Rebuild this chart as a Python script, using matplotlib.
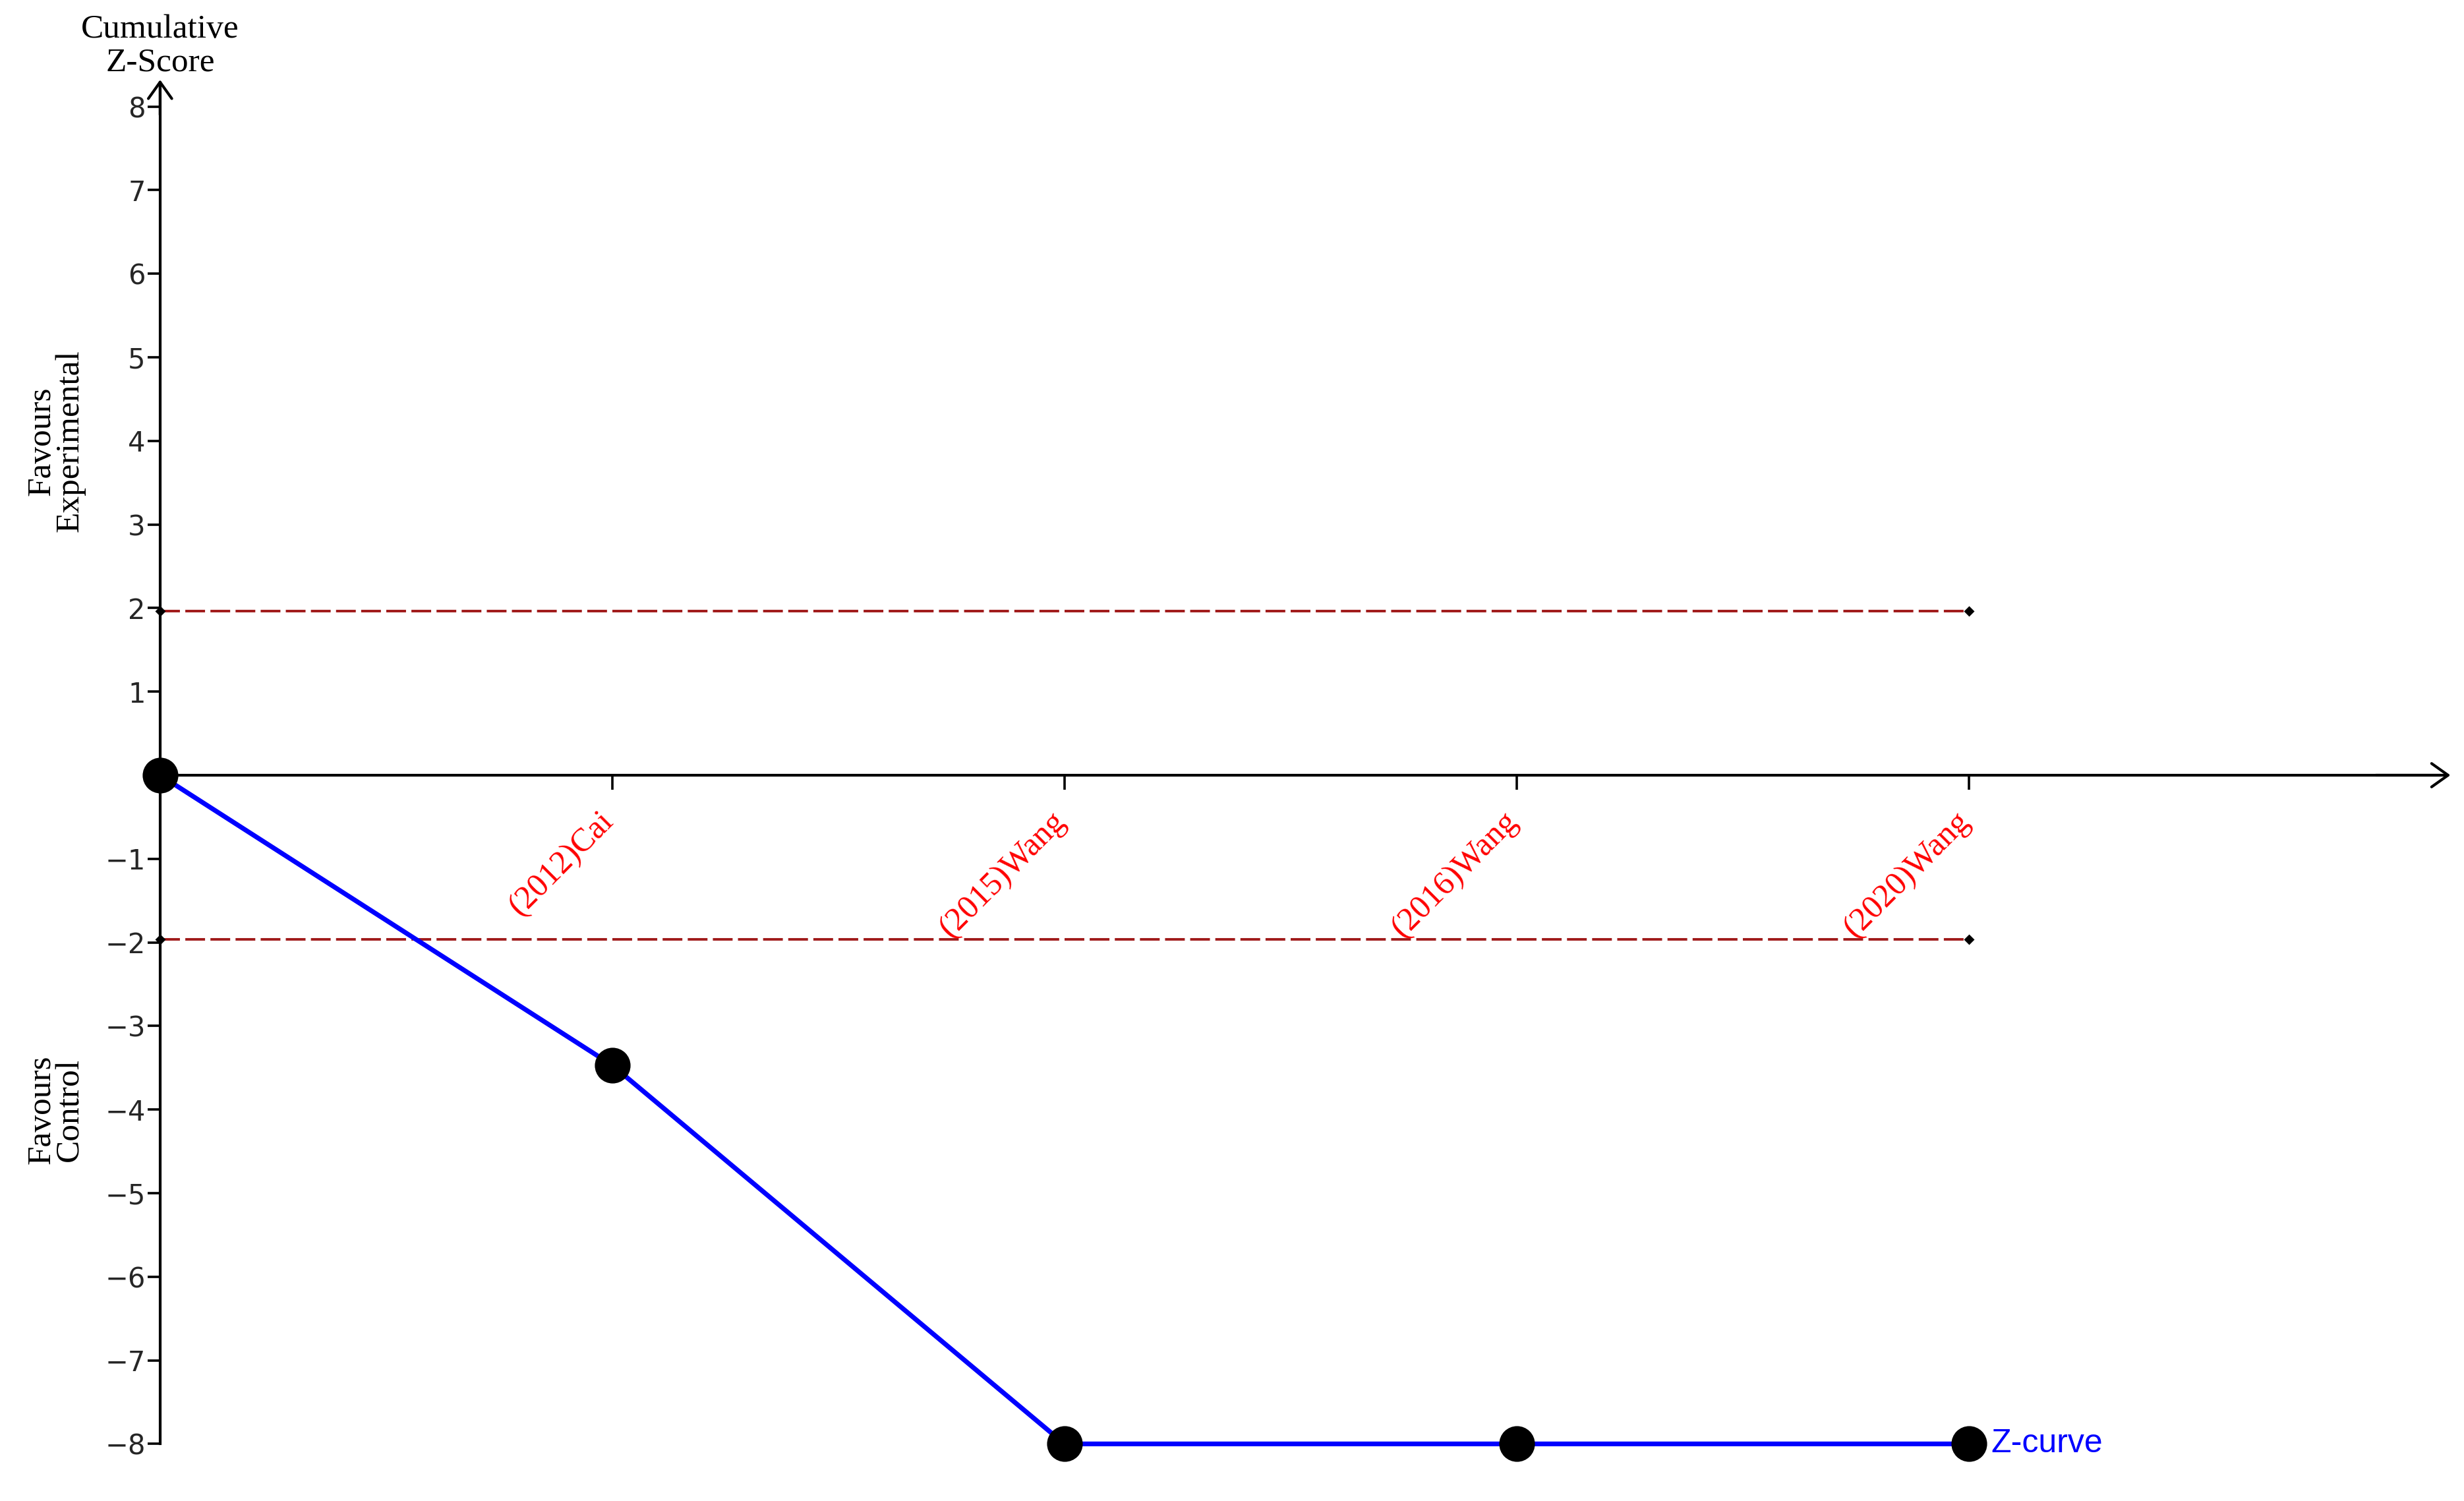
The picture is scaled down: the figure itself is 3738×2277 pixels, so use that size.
import matplotlib
matplotlib.use("Agg")
import matplotlib.pyplot as plt

# data
studies = ["(2012)Cai", "(2015)Wang", "(2016)Wang", "(2020)Wang"]
x_pos = [0, 1, 2, 3, 4]
z_curve = [0, -3.47, -8.0, -8.0, -8.0]
bound_x = [0, 4]
upper_bound = [1.96, 1.96]
lower_bound = [-1.96, -1.96]
y_ticks = [-8, -7, -6, -5, -4, -3, -2, -1, 1, 2, 3, 4, 5, 6, 7, 8]
y_ticklabels = ["\u22128", "\u22127", "\u22126", "\u22125", "\u22124", "\u22123", "\u22122", "\u22121",
                "1", "2", "3", "4", "5", "6", "7", "8"]

serif = ["Liberation Serif", "DejaVu Serif"]
sans = ["Liberation Sans", "DejaVu Sans"]

fig = plt.figure(figsize=(18.69, 11.385), dpi=200)
ax = fig.add_axes([0, 0, 1, 1])
ax.set_xlim(-0.354, 5.095)
ax.set_ylim(-8.683, 9.274)

# axes through the origin
for s in ["top", "right"]:
    ax.spines[s].set_visible(False)
ax.spines["left"].set_position(("data", 0))
ax.spines["bottom"].set_position(("data", 0))
ax.spines["left"].set_bounds(-8, 8.28)
ax.spines["bottom"].set_bounds(0, 5.04)
ax.spines["left"].set_linewidth(1.5)
ax.spines["bottom"].set_linewidth(1.5)

arrow = dict(arrowstyle="->,head_length=0.45,head_width=0.32", lw=1.5, color="black",
             mutation_scale=20, shrinkA=0, shrinkB=0)
ax.annotate("", xy=(0, 8.32), xytext=(0, 7.9), arrowprops=arrow, annotation_clip=False)
ax.annotate("", xy=(5.065, 0), xytext=(4.9, 0), arrowprops=arrow, annotation_clip=False)

ax.set_yticks(y_ticks, y_ticklabels)
ax.tick_params(axis="y", direction="out", length=7, width=1.3, pad=1,
               labelsize=15, labelcolor="#262626")
for t in ax.get_yticklabels():
    t.set_family(["DejaVu Sans"])

ax.set_xticks(x_pos[1:], [""] * len(studies))
ax.tick_params(axis="x", direction="out", length=8, width=1.3)

# study names under the ticks
for xp, name in zip(x_pos[1:], studies):
    ax.text(xp + 0.005, -0.56, name, rotation=45, rotation_mode="anchor", ha="right",
            va="baseline", color="red", fontsize=18, family=serif)

# significance boundaries
for yb in [upper_bound, lower_bound]:
    ax.plot(bound_x, yb, ls=(0, (7.7, 2.1)), color="#a01a1a", lw=1.4, zorder=2)
    ax.plot(bound_x, yb, ls="none", marker="D", ms=3, color="black", zorder=3)

# Z-curve
ax.plot(x_pos, z_curve, color="#0000ff", lw=2.6, zorder=4)
ax.plot(x_pos, z_curve, ls="none", marker="o", ms=18.5, color="black", zorder=6, clip_on=False)
ax.annotate("Z-curve", xy=(x_pos[-1], z_curve[-1]), xytext=(12, 0), textcoords="offset points",
            va="center", ha="left", color="#0000ff", fontsize=18, family=sans)

# axis titles
ax.text(0, 8.34, "Cumulative\nZ-Score", ha="center", va="bottom", fontsize=18.5,
        family=serif, linespacing=1.1)
ax.text(-0.23, 4.0, "Favours\nExperimental", ha="center", va="center", rotation=90,
        fontsize=18.5, family=serif, linespacing=0.9)
ax.text(-0.23, -4.0, "Favours\nControl", ha="center", va="center", rotation=90,
        fontsize=18.5, family=serif, linespacing=0.9)

fig.savefig("out.png", dpi=200)
